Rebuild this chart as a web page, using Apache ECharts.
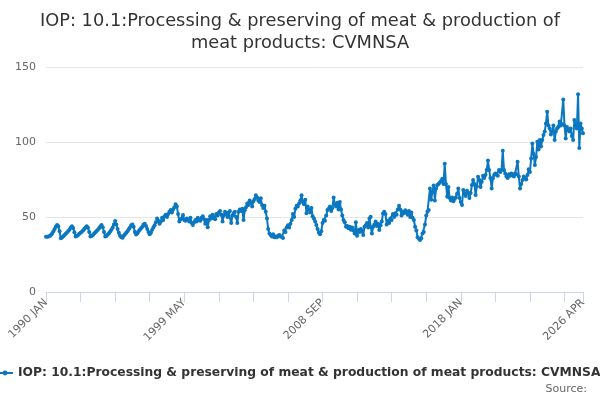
<!DOCTYPE html>
<html>
<head>
<meta charset="utf-8">
<script src="https://cdn.jsdelivr.net/npm/echarts@6/dist/echarts.min.js"></script>
<style>
  html, body { margin: 0; padding: 0; background: #fff; }
  #chart { width: 600px; height: 400px; }
</style>
</head>
<body>
<div id="chart"></div>
<script>
// monthly index values
const values1990s = [
  36.8, 36.9, 37.0, 37.3, 38.0, 39.0, 40.5, 42.0, 43.5, 44.7, 43.8, 40.5,
  35.8, 36.4, 37.2, 38.0, 38.8, 39.6, 40.6, 41.5, 42.8, 43.8, 42.6, 39.8,
  37.0, 37.3, 38.0, 38.8, 39.5, 40.2, 41.0, 42.0, 43.0, 43.8, 42.8, 40.0,
  37.0, 37.3, 38.0, 39.0, 39.8, 40.6, 41.5, 42.5, 43.6, 44.7, 43.2, 40.0,
  37.0, 37.4, 38.3, 39.2, 40.3, 41.5, 43.0, 45.0, 47.3, 45.0, 42.0, 39.5,
  37.5, 36.5, 36.2, 37.5, 38.5, 39.5, 40.5, 41.8, 43.0, 44.5, 45.0, 43.5,
  40.0, 38.4, 39.2, 40.5, 41.5, 42.5, 43.5, 45.0, 45.5, 44.0, 42.0, 40.0,
  38.5, 39.5, 41.5, 43.0, 44.5, 46.5, 49.0, 47.5, 45.5, 47.0, 49.5, 48.0,
  50.5, 51.5, 50.0, 52.0, 53.5, 54.7, 53.0, 55.0, 56.5, 58.5, 57.0, 52.0,
  47.0, 48.5, 49.0, 51.3, 48.0, 47.5, 49.0, 48.5, 47.0, 49.5, 46.0, 44.7
];
const values2000s = [
  46.5, 48.0, 47.0, 49.5, 48.0, 47.5, 49.5, 50.5, 48.5, 45.5, 48.0, 43.2,
  48.0, 50.5, 49.0, 51.5, 50.0, 48.5, 52.0, 51.0, 53.0, 54.0, 51.5, 47.0,
  51.0, 53.5, 52.0, 50.0, 53.0, 54.0, 46.0, 51.0, 52.5, 53.5, 50.0, 46.0,
  53.5, 55.0, 54.0, 55.5, 48.0, 54.5, 56.5, 59.0, 58.0, 61.0, 59.5, 57.0,
  60.5, 62.0, 64.5, 63.0, 61.0, 60.0, 62.5, 58.0, 56.0, 57.5, 53.5, 49.0,
  42.0, 39.0, 38.0, 37.0, 38.5, 36.5, 37.0, 36.5, 37.5, 38.0, 37.0, 36.8,
  36.0, 41.0, 40.0, 43.0, 44.5, 43.0, 45.5, 48.0, 52.0, 50.0, 55.5, 57.5,
  57.0, 59.0, 61.0, 64.5, 60.0, 58.5, 61.5, 52.5, 57.0, 55.0, 53.0, 56.0,
  50.5, 49.0, 47.0, 44.7, 42.0, 39.5, 38.5, 40.5, 46.0, 48.0, 47.5, 51.0,
  54.7, 55.5, 57.0, 54.0, 56.0, 63.0, 58.5, 57.0, 59.5, 55.0, 60.0, 55.0
];
const values2010s = [
  51.0, 48.0, 46.5, 43.5, 44.0, 42.5, 43.5, 41.5, 43.0, 41.0, 39.0, 46.5,
  37.5, 41.3, 40.0, 42.0, 41.0, 38.0, 43.5, 44.5, 46.0, 43.0, 49.0, 50.2,
  39.0, 43.5, 45.0, 47.0, 44.0, 45.5, 41.3, 44.5, 47.0, 52.4, 53.5, 52.0,
  45.0, 47.5, 46.0, 49.0, 48.0, 52.0, 50.0, 52.5, 51.5, 55.0, 57.5, 55.0,
  51.0, 53.5, 52.5, 54.5, 53.0, 51.5, 54.0, 50.0, 53.0, 49.5, 48.0, 43.5,
  41.0, 36.5, 35.5, 34.7, 35.8, 39.0, 40.0, 45.0, 51.0, 53.5, 54.7, 69.0,
  61.5, 67.0, 71.0, 61.0, 69.0, 71.3, 72.0, 73.0, 74.0, 75.5, 72.0, 85.5,
  72.0, 63.5, 70.0, 62.7, 61.0, 63.0, 60.5, 62.0, 63.0, 65.5, 69.0, 62.7,
  60.0, 58.0, 68.0, 65.5, 64.0, 67.5, 66.0, 62.7, 66.0, 71.3, 74.7, 72.0,
  64.7, 70.5, 76.9, 74.7, 70.0, 73.5, 77.5, 76.0, 78.0, 81.3, 87.6, 81.3
];
const values2020s = [
  76.0, 69.0, 75.8, 78.0, 79.0, 78.5, 77.5, 81.3, 80.0, 81.3, 94.2, 81.3,
  79.0, 77.0, 76.0, 78.5, 77.5, 79.0, 78.0, 77.0, 79.0, 78.5, 86.9, 77.0,
  69.0, 72.0, 74.7, 77.0, 75.8, 75.0, 78.0, 81.8, 80.0, 89.0, 99.0, 92.0,
  84.7, 90.0, 100.2, 95.0, 101.3, 97.0, 101.3, 104.7, 107.0, 112.4, 120.2, 111.0,
  109.0, 105.0, 107.0, 111.0, 101.3, 107.0, 109.0, 110.0, 113.6, 111.0, 112.0, 128.4,
  111.0, 102.4, 110.0, 108.0, 107.0, 109.0, 104.0, 101.3, 114.7, 111.0, 109.0, 131.8,
  96.0, 112.4, 109.0, 105.8
];

const months = ['JAN', 'FEB', 'MAR', 'APR', 'MAY', 'JUN', 'JUL', 'AUG', 'SEP', 'OCT', 'NOV', 'DEC'];
const firstYear = 1990;
const lastYear = 2026;
const lastMonth = 4; // APR

const titleLines = [
  'IOP: 10.1:Processing & preserving of meat & production of',
  'meat products: CVMNSA'
];
const seriesName = 'IOP: 10.1:Processing & preserving of meat & production of meat products: CVMNSA';

const values = values1990s.concat(values2000s, values2010s, values2020s);

const categories = [];
for (let y = firstYear; y <= lastYear; y++) {
  const n = y === lastYear ? lastMonth : 12;
  for (let m = 0; m < n; m++) categories.push(y + ' ' + months[m]);
}
const lastIdx = categories.length - 1;

const font = 'DejaVu Sans';
const blue = '#0a77c0';
const titleStyle = { fontSize: 17.8, fontWeight: 'normal', color: '#333', fontFamily: font };

const chart = echarts.init(document.getElementById('chart'), null, { renderer: 'canvas' });

chart.setOption({
  animation: false,
  textStyle: { fontFamily: font },
  title: [
    { text: titleLines[0], left: 'center', top: 7, textStyle: titleStyle },
    { text: titleLines[1], left: 'center', top: 29, textStyle: titleStyle },
    {
      text: 'Source:',
      right: 8,
      bottom: 0,
      textStyle: { fontSize: 11, fontWeight: 'normal', color: '#666', fontFamily: font }
    }
  ],
  legend: {
    left: -9,
    bottom: 16,
    itemWidth: 16,
    itemHeight: 6,
    itemGap: 4,
    textStyle: { fontSize: 12.3, fontWeight: 'bold', color: '#333', fontFamily: font },
    data: [seriesName]
  },
  grid: { left: 46, right: 17, top: 67, bottom: 108, containLabel: false },
  xAxis: {
    type: 'category',
    data: categories,
    boundaryGap: false,
    axisLine: { lineStyle: { color: '#ccd6eb' } },
    axisTick: {
      length: 10,
      lineStyle: { color: '#ccd6eb' },
      interval: (i) => i % 28 === 0 || i === lastIdx
    },
    axisLabel: {
      rotate: 45,
      margin: 9,
      fontSize: 11,
      color: '#666',
      fontFamily: font,
      interval: (i) => i % 112 === 0 || i === lastIdx
    },
    splitLine: { show: false }
  },
  yAxis: {
    type: 'value',
    min: 0,
    max: 150,
    interval: 50,
    axisLine: { show: false },
    axisTick: { show: false },
    axisLabel: { fontSize: 11, color: '#666', margin: 10, fontFamily: font },
    splitLine: { lineStyle: { color: '#e6e6e6' } }
  },
  series: [
    {
      name: seriesName,
      type: 'line',
      data: values,
      color: blue,
      symbol: 'circle',
      symbolSize: 4,
      showSymbol: true,
      showAllSymbol: true,
      lineStyle: { width: 2, color: blue },
      itemStyle: { color: blue }
    }
  ]
});
</script>
</body>
</html>
